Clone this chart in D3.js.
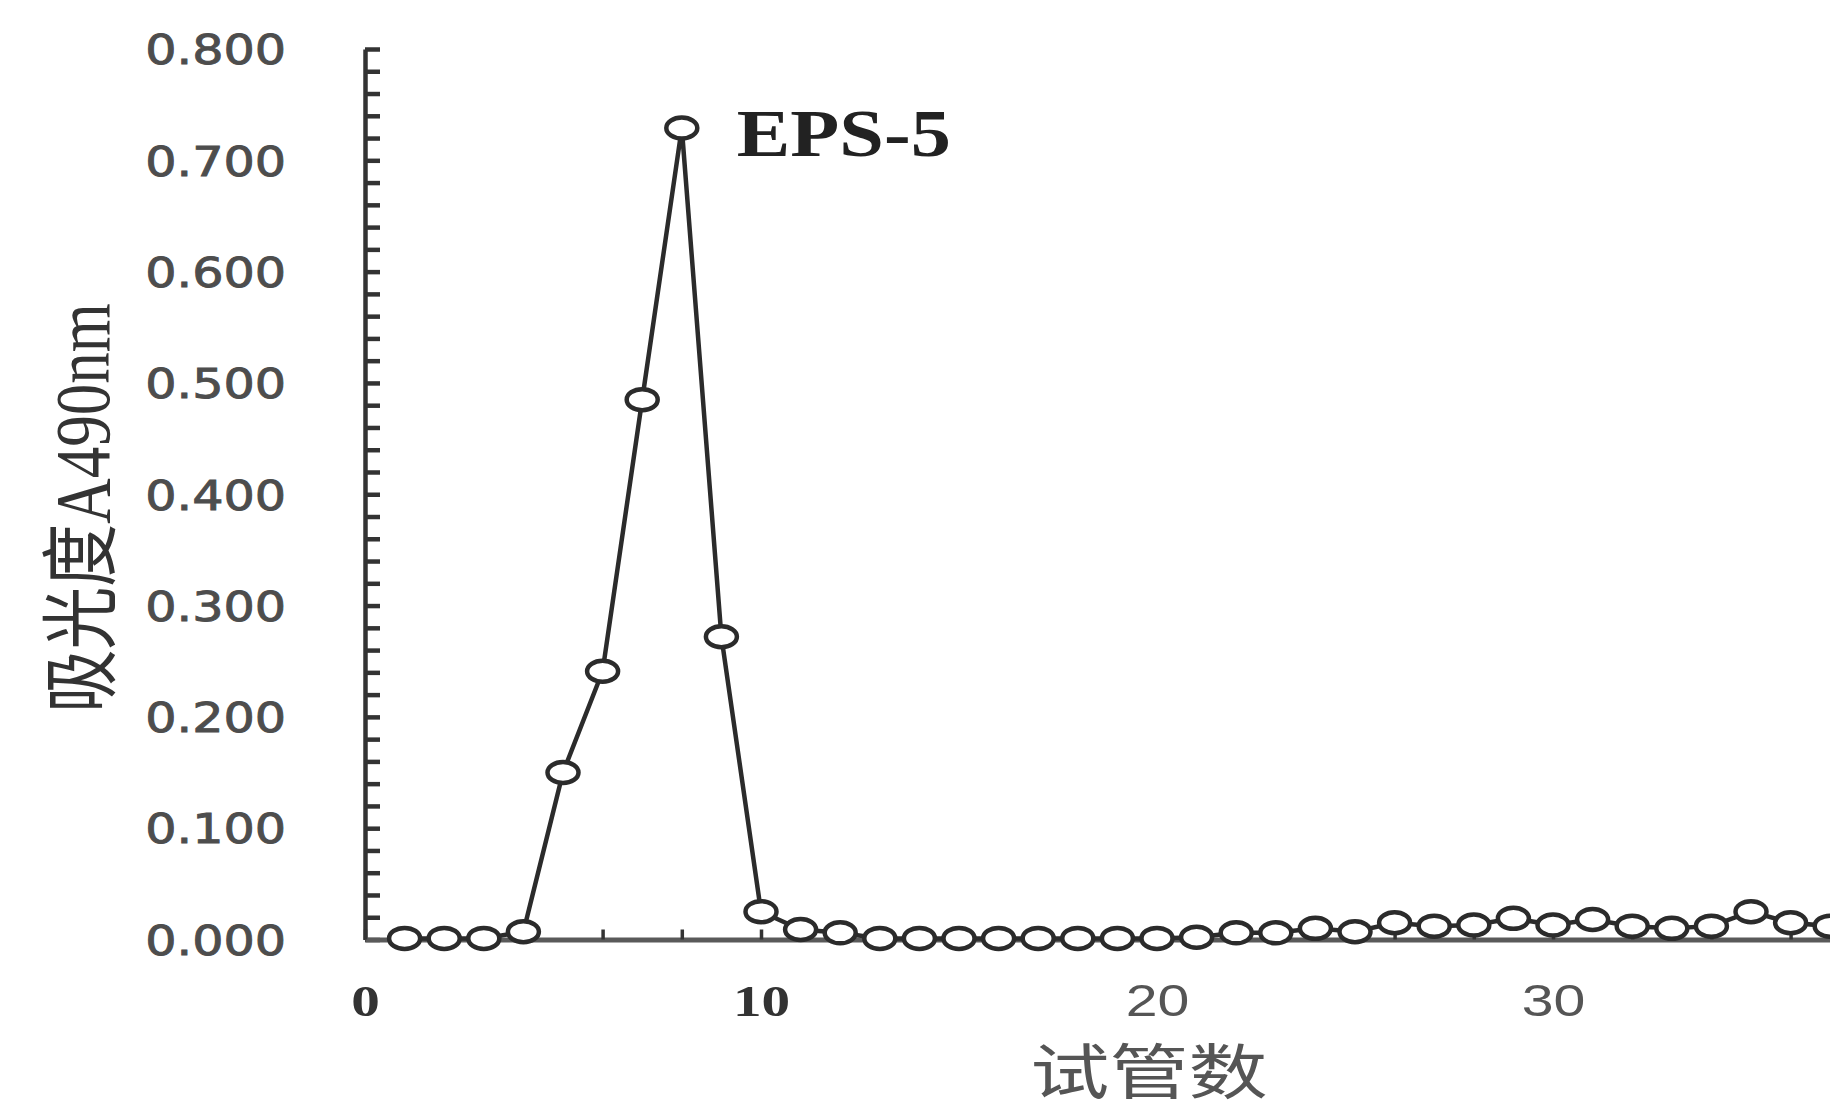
<!DOCTYPE html>
<html lang="zh">
<head>
    <meta charset="utf-8">
    <script src="https://d3js.org/d3.v7.min.js"></script>
    <title>EPS-5</title>
    <style>
        html, body {margin: 0; padding: 0; background: #fff;}
        svg {display: block;}
        .yaxis path, .yaxis line {stroke: #333; stroke-width: 4.5;}
        .xaxis path {stroke: #5a5a5a; stroke-width: 5;}
        .xaxis line {stroke: #333; stroke-width: 3.5;}
        .yaxis text {font-family: "DejaVu Sans", sans-serif; font-size: 41px; fill: #4d4d4d; stroke: #4d4d4d; stroke-width: 0.9px;}
        .xaxis text {font-size: 44px;}
    </style>
</head>
<body>
<svg width="1830" height="1117"></svg>

<script>
    // 试管号 / 吸光度 A490nm
    var tubes = [1, 2, 3, 4, 5, 6, 7, 8, 9, 10, 11, 12, 13, 14, 15, 16, 17, 18, 19, 20,
                 21, 22, 23, 24, 25, 26, 27, 28, 29, 30, 31, 32, 33, 34, 35, 36, 37];
    var absorbance = [0.001, 0.001, 0.001, 0.007, 0.150, 0.241, 0.485, 0.729, 0.272, 0.025,
                      0.009, 0.006, 0.001, 0.001, 0.001, 0.001, 0.001, 0.001, 0.001, 0.001,
                      0.002, 0.006, 0.006, 0.010, 0.007, 0.015, 0.012, 0.013, 0.019, 0.013,
                      0.018, 0.012, 0.010, 0.012, 0.025, 0.015, 0.012];
    var yTicks = [0, 0.02, 0.04, 0.06, 0.08, 0.1, 0.12, 0.14, 0.16, 0.18, 0.2, 0.22, 0.24, 0.26, 0.28,
                  0.3, 0.32, 0.34, 0.36, 0.38, 0.4, 0.42, 0.44, 0.46, 0.48, 0.5, 0.52, 0.54, 0.56, 0.58,
                  0.6, 0.62, 0.64, 0.66, 0.68, 0.7, 0.72, 0.74, 0.76, 0.78, 0.8];
    var yLabels = [0, 0.1, 0.2, 0.3, 0.4, 0.5, 0.6, 0.7, 0.8];
    var xTicks = [0, 2, 4, 6, 8, 10, 12, 14, 16, 18, 20, 22, 24, 26, 28, 30, 32, 34, 36, 38, 40];
    var xLabels = [0, 10, 20, 30];
    var seriesName = 'EPS-5';

    var data = tubes.map((t, i) => ({x: t, y: absorbance[i]}));

    var svg = d3.select('svg');
    var x = d3.scaleLinear().domain([0, 40]).range([365, 1949]);
    var y = d3.scaleLinear().domain([0, 0.8]).range([939.5, 49]);

    // y轴 (刻度朝内)
    var gy = svg.append('g').attr('class', 'yaxis')
        .attr('transform', 'translate(' + x(0) + ',0)')
        .call(d3.axisLeft(y).tickValues(yTicks).tickSizeInner(-15).tickSizeOuter(0)
            .tickFormat(d => yLabels.some(v => Math.abs(v - d) < 1e-9) ? d3.format('.3f')(d) : ''));
    gy.selectAll('text')
        .attr('x', 0).attr('dy', '0.36em')
        .attr('transform', 'translate(-79,0) scale(1.2,1)');

    // x轴
    var gx = svg.append('g').attr('class', 'xaxis')
        .attr('transform', 'translate(0,' + y(0) + ')')
        .call(d3.axisBottom(x).tickValues(xTicks).tickSizeInner(-10).tickSizeOuter(0)
            .tickFormat(d => xLabels.includes(d) ? d : ''));
    gx.selectAll('text')
        .attr('y', 0).attr('dy', '0.36em')
        .attr('transform', 'translate(0,61) scale(1.3,1)')
        .style('font-family', d => d < 20 ? '"Liberation Serif", serif' : '"Liberation Sans", sans-serif')
        .style('font-weight', d => d < 20 ? 'bold' : 'normal')
        .style('fill', d => d < 20 ? '#333' : '#555');

    // 折线
    svg.append('path').datum(data)
        .attr('fill', 'none').attr('stroke', '#2b2b2b').attr('stroke-width', 4.5)
        .attr('d', d3.line().x(d => x(d.x)).y(d => y(d.y)));

    svg.selectAll('ellipse').data(data).enter().append('ellipse')
        .attr('cx', d => x(d.x)).attr('cy', d => y(d.y))
        .attr('rx', 15.5).attr('ry', 10.5)
        .attr('fill', '#fff').attr('stroke', '#2b2b2b').attr('stroke-width', 4.5);

    // 标注
    var peak = data[d3.maxIndex(data, d => d.y)];
    svg.append('text')
        .attr('transform', 'translate(' + (x(peak.x) + 55) + ',' + (y(peak.y) + 28) + ') scale(1.18,1)')
        .style('font-family', '"Liberation Serif", serif').style('font-weight', 'bold')
        .style('font-size', '68px').style('fill', '#222')
        .text(seriesName);

    // 轴标题
    svg.append('text')
        .attr('transform', 'translate(82,508) scale(1.25,1) rotate(-90)')
        .attr('text-anchor', 'middle').attr('dominant-baseline', 'central')
        .style('font-family', '"Liberation Serif", "Noto Sans CJK SC", serif')
        .style('font-size', '63px').style('fill', '#333')
        .text('吸光度A490nm');

    svg.append('text')
        .attr('transform', 'translate(1149,1094) scale(1.32,1)')
        .attr('text-anchor', 'middle')
        .style('font-family', '"Noto Sans CJK SC", sans-serif')
        .style('font-size', '60px').style('fill', '#555')
        .text('试管数');
</script>
</body>
</html>
